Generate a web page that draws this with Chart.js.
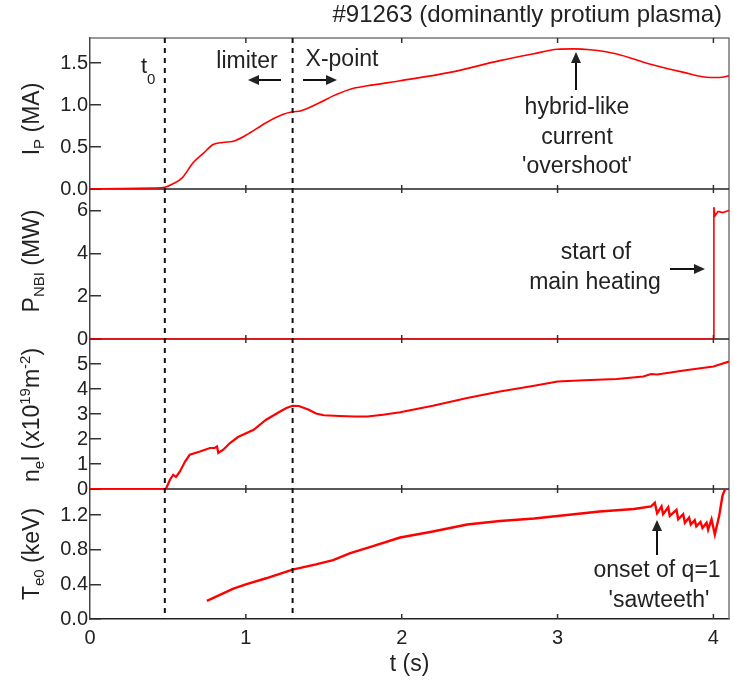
<!DOCTYPE html>
<html>
<head>
<meta charset="utf-8">
<script src="https://cdn.jsdelivr.net/npm/chart.js@4.4.1/dist/chart.umd.min.js"></script>
<style>
  html, body { margin: 0; padding: 0; background: #fff; }
  canvas { display: block; }
</style>
</head>
<body>
<canvas id="chart" width="734" height="684"></canvas>
<script>
// plasma current (MA)
const ipTime = [0, 0.2, 0.4, 0.48, 0.53, 0.59, 0.66, 0.73, 0.79, 0.85, 0.92, 1.0, 1.13, 1.24, 1.3, 1.35, 1.475, 1.56, 1.67, 1.78, 1.99, 2.31, 2.63, 2.84, 3.0, 3.1, 3.21, 3.38, 3.59, 3.81, 3.98, 4.04, 4.1];
const ipValues = [0, 0.005, 0.012, 0.02, 0.06, 0.13, 0.31, 0.43, 0.53, 0.555, 0.57, 0.64, 0.79, 0.89, 0.92, 0.93, 1.03, 1.11, 1.19, 1.23, 1.29, 1.39, 1.53, 1.61, 1.665, 1.67, 1.66, 1.61, 1.49, 1.39, 1.33, 1.33, 1.35];

// NBI power (MW)
const nbiTime = [0, 4.0, 4.003, 4.01, 4.03, 4.06, 4.1];
const nbiValues = [0, 0, 6.15, 5.75, 5.95, 5.9, 6.0];

// line integrated density (1e19 m^-2)
const neTime = [0, 0.487, 0.513, 0.534, 0.552, 0.577, 0.61, 0.64, 0.706, 0.77, 0.8, 0.815, 0.823, 0.855, 0.898, 0.95, 1.05, 1.13, 1.22, 1.26, 1.3, 1.34, 1.4, 1.45, 1.5, 1.6, 1.7, 1.78, 1.88, 1.99, 2.2, 2.42, 2.63, 2.85, 3.0, 3.17, 3.38, 3.55, 3.6, 3.64, 3.81, 4.0, 4.1];
const neValues = [0, 0, 0.37, 0.57, 0.48, 0.7, 1.1, 1.37, 1.5, 1.64, 1.64, 1.7, 1.44, 1.57, 1.84, 2.08, 2.37, 2.77, 3.1, 3.24, 3.33, 3.32, 3.18, 3.02, 2.95, 2.92, 2.9, 2.9, 2.97, 3.07, 3.33, 3.64, 3.9, 4.13, 4.3, 4.35, 4.4, 4.5, 4.6, 4.58, 4.74, 4.9, 5.1];

// central electron temperature (keV)
const teTime = [0.75, 0.92, 1.0, 1.13, 1.3, 1.45, 1.56, 1.67, 1.78, 1.99, 2.2, 2.42, 2.63, 2.85, 3.06, 3.27, 3.49, 3.6, 3.624, 3.639, 3.667, 3.677, 3.71, 3.72, 3.763, 3.774, 3.806, 3.817, 3.844, 3.855, 3.88, 3.89, 3.917, 3.93, 3.956, 3.966, 3.988, 4.009, 4.037, 4.058, 4.075, 4.09];
const teValues = [0.21, 0.35, 0.4, 0.47, 0.57, 0.63, 0.68, 0.76, 0.82, 0.94, 1.01, 1.09, 1.13, 1.16, 1.2, 1.24, 1.27, 1.3, 1.34, 1.22, 1.3, 1.21, 1.29, 1.19, 1.26, 1.15, 1.21, 1.11, 1.17, 1.09, 1.14, 1.07, 1.12, 1.05, 1.11, 1.03, 1.15, 0.975, 1.19, 1.42, 1.5, 1.5];

// t0 and limiter/X-point transition
const markerTimes = [0.48, 1.3];

const FONT = '"Liberation Sans", Arial, sans-serif';
const RED = '#ff0000';
const INK = '#222';

function series(t, v) {
  return t.map((x, i) => ({ x: x, y: v[i] }));
}

function panelAxis(weight, stackWeight, max, step, decimals) {
  return {
    type: 'linear',
    position: 'left',
    stack: 'panels',
    stackWeight: stackWeight,
    weight: weight,
    min: 0,
    max: max,
    ticks: {
      stepSize: step,
      includeBounds: false,
      autoSkip: false,
      padding: 13,
      color: INK,
      font: { family: FONT, size: 20 },
      callback: v => v.toFixed(decimals)
    },
    grid: { drawOnChartArea: false, drawTicks: true, tickLength: -11, color: '#333', lineWidth: 1.5 },
    border: { display: true, color: '#444', width: 1.5 },
    afterBuildTicks: s => { s.ticks = s.ticks.filter(t => t.value < s.max - 1e-6); },
    afterFit: s => { s.width = 90; }
  };
}

// mixed-size text (sub/superscripts)
function richText(ctx, parts, x, y, align) {
  let w = 0;
  parts.forEach(p => { ctx.font = p[1] + 'px ' + FONT; w += ctx.measureText(p[0]).width; });
  let cx = align === 'center' ? x - w / 2 : (align === 'right' ? x - w : x);
  ctx.textAlign = 'left';
  ctx.textBaseline = 'alphabetic';
  parts.forEach(p => {
    ctx.font = p[1] + 'px ' + FONT;
    ctx.fillText(p[0], cx, y + (p[2] || 0));
    cx += ctx.measureText(p[0]).width;
  });
}

function arrow(ctx, x1, y1, x2, y2) {
  const a = Math.atan2(y2 - y1, x2 - x1);
  const hl = 11, hw = 5;
  ctx.beginPath();
  ctx.moveTo(x1, y1);
  ctx.lineTo(x2 - Math.cos(a) * hl * 0.8, y2 - Math.sin(a) * hl * 0.8);
  ctx.stroke();
  ctx.beginPath();
  ctx.moveTo(x2, y2);
  ctx.lineTo(x2 - Math.cos(a) * hl - Math.sin(a) * hw, y2 - Math.sin(a) * hl + Math.cos(a) * hw);
  ctx.lineTo(x2 - Math.cos(a) * hl + Math.sin(a) * hw, y2 - Math.sin(a) * hl - Math.cos(a) * hw);
  ctx.closePath();
  ctx.fill();
}

const axisIds = ['yIp', 'yNbi', 'yNe', 'yTe'];

const framePlugin = {
  id: 'frame',
  beforeDatasetsDraw(chart) {
    const ctx = chart.ctx, a = chart.chartArea;
    ctx.save();
    ctx.strokeStyle = '#777';
    ctx.lineWidth = 1.5;
    ctx.beginPath();
    ctx.moveTo(a.left, a.top);
    ctx.lineTo(a.right, a.top);
    ctx.lineTo(a.right, a.bottom);
    ctx.stroke();
    ctx.strokeStyle = '#222';
    axisIds.slice(0, 3).forEach(id => {
      const y = chart.scales[id].bottom;
      ctx.beginPath();
      ctx.moveTo(a.left, y);
      ctx.lineTo(a.right, y);
      ctx.stroke();
    });
    ctx.restore();
  },
  afterDatasetsDraw(chart) {
    const ctx = chart.ctx, a = chart.chartArea, xs = chart.scales.x;
    ctx.save();
    // x tick marks on every panel edge
    ctx.strokeStyle = '#333';
    ctx.lineWidth = 1.5;
    xs.ticks.forEach(t => {
      if (t.value <= 0) return;
      const px = xs.getPixelForValue(t.value);
      ctx.beginPath();
      ctx.moveTo(px, a.top);
      ctx.lineTo(px, a.top + 5);
      axisIds.slice(0, 3).forEach(id => {
        const y = chart.scales[id].bottom;
        ctx.moveTo(px, y - 4);
        ctx.lineTo(px, y + 4);
      });
      ctx.moveTo(px, a.bottom);
      ctx.lineTo(px, a.bottom - 5);
      ctx.stroke();
    });
    // dashed markers
    ctx.strokeStyle = '#111';
    ctx.lineWidth = 2;
    ctx.setLineDash([5, 5]);
    markerTimes.forEach(t => {
      const px = xs.getPixelForValue(t);
      ctx.beginPath();
      ctx.moveTo(px, a.top);
      ctx.lineTo(px, a.bottom);
      ctx.stroke();
    });
    ctx.restore();
  },
  afterDraw(chart) {
    const ctx = chart.ctx;
    ctx.save();
    ctx.fillStyle = INK;
    ctx.strokeStyle = '#111';
    ctx.lineWidth = 2;

    richText(ctx, [['#91263 (dominantly protium plasma)', 24]], 722, 22, 'right');

    // y axis titles, rotated
    const titles = [
      [[['I', 23], ['P', 15, 5], [' (MA)', 23]], 119],
      [[['P', 23], ['NBI', 15, 5], [' (MW)', 23]], 261],
      [[['n', 23], ['e', 15, 5], ['l (x10', 23], ['19', 15, -9], ['m', 23], ['-2', 15, -9], [')', 23]], 415],
      [[['T', 23], ['e0', 15, 5], [' (keV)', 23]], 554]
    ];
    titles.forEach(tt => {
      ctx.save();
      ctx.translate(39, tt[1]);
      ctx.rotate(-Math.PI / 2);
      richText(ctx, tt[0], 0, 0, 'center');
      ctx.restore();
    });

    // annotations
    richText(ctx, [['t', 22], ['0', 15, 11]], 141, 73, 'left');
    richText(ctx, [['limiter', 23]], 247, 68, 'center');
    richText(ctx, [['X-point', 23]], 342, 66, 'center');
    arrow(ctx, 281, 80, 248, 80);
    arrow(ctx, 303, 80, 337, 80);

    arrow(ctx, 576, 90, 576, 52);
    richText(ctx, [['hybrid-like', 23]], 577, 114, 'center');
    richText(ctx, [['current', 23]], 577, 144, 'center');
    richText(ctx, [["'overshoot'", 23]], 577, 173, 'center');

    richText(ctx, [['start of', 23]], 596, 259, 'center');
    richText(ctx, [['main heating', 23]], 595, 289, 'center');
    arrow(ctx, 670, 269, 705, 269);

    arrow(ctx, 657, 555, 657, 520);
    richText(ctx, [['onset of q=1', 23]], 657, 577, 'center');
    richText(ctx, [["'sawteeth'", 23]], 659, 607, 'center');
    ctx.restore();
  }
};

new Chart(document.getElementById('chart'), {
  type: 'line',
  data: {
    datasets: [
      { data: series(ipTime, ipValues), yAxisID: 'yIp', borderColor: RED, borderWidth: 1.6, cubicInterpolationMode: 'monotone' },
      { data: series(nbiTime, nbiValues), yAxisID: 'yNbi', borderColor: RED, borderWidth: 1.6 },
      { data: series(neTime, neValues), yAxisID: 'yNe', borderColor: RED, borderWidth: 2.2 },
      { data: series(teTime, teValues), yAxisID: 'yTe', borderColor: RED, borderWidth: 2.4 }
    ]
  },
  options: {
    responsive: false,
    devicePixelRatio: 1,
    animation: false,
    layout: { padding: { top: 38, right: 5, left: 0, bottom: 0 } },
    elements: { point: { radius: 0 }, line: { tension: 0 } },
    plugins: { legend: { display: false }, tooltip: { enabled: false } },
    scales: {
      x: {
        type: 'linear',
        position: 'bottom',
        min: 0,
        max: 4.1,
        ticks: { stepSize: 1, includeBounds: false, autoSkip: false, maxRotation: 0, padding: 7, color: INK, font: { family: FONT, size: 20 } },
        grid: { drawOnChartArea: false, drawTicks: false, color: '#333' },
        border: { display: true, color: '#222', width: 1.5 },
        title: { display: true, text: 't (s)', color: INK, font: { family: FONT, size: 23 }, padding: { top: 0, bottom: 6 } },
        afterFit: s => { s.height = 65; }
      },
      yIp: panelAxis(4, 151, 1.8, 0.5, 1),
      yNbi: panelAxis(3, 150, 7, 2, 0),
      yNe: panelAxis(2, 150, 6, 1, 0),
      yTe: panelAxis(1, 130, 1.5, 0.4, 1)
    }
  },
  plugins: [framePlugin]
});
</script>
</body>
</html>
